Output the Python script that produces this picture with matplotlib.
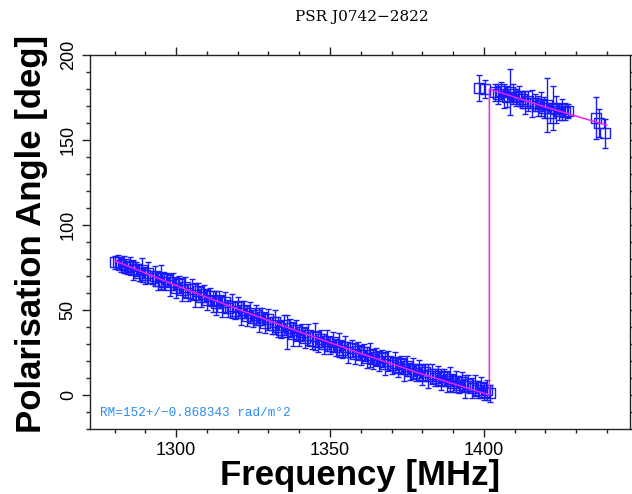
import matplotlib
matplotlib.use("Agg")
import matplotlib.pyplot as plt
import numpy as np
from matplotlib.ticker import MultipleLocator

# left band: channels 1280..1402 MHz
left_freq = np.arange(1280, 1403)
left_pa = [78, 78.5, 76.5, 77, 75, 76, 73.5, 74, 72, 73.5,
           70.5, 72, 69, 70, 67, 69.5, 66.5, 68, 64.5, 66.5,
           63, 65, 62, 63.5, 60, 62.5, 59, 61, 57.5, 59.5,
           56, 58, 55, 54, 56, 52, 54.5, 51, 52.5, 49.5,
           51.5, 48, 50, 46.5, 48.5, 45, 47, 44, 46, 42.5,
           44.5, 41, 43, 40, 38.5, 41, 37, 39.5, 36, 38,
           35, 37, 33.5, 35.5, 32, 34.5, 31, 33, 30, 32,
           29, 31, 28, 29.5, 26.5, 28.5, 25, 27.5, 24, 26,
           23.5, 25, 22, 23.5, 21, 22.5, 20, 21.5, 18.5, 20,
           17.5, 19, 16.5, 18, 15, 17, 14, 15.5, 13, 14.5,
           12, 13.5, 11, 12.5, 10, 11, 9, 10.5, 8, 9.5,
           7, 8, 6, 7.5, 5, 6.5, 4, 5.5, 3, 4.5,
           2, 3, 1]
left_err = [4, 4, 4, 5, 4, 5, 6, 4, 5, 7,
            5, 6, 4, 6, 5, 7, 5, 4, 6, 5,
            6, 5, 7, 6, 5, 6, 7, 5, 6, 5,
            6, 5, 6, 7, 5, 6, 6, 5, 7, 5,
            6, 7, 5, 6, 6, 5, 6, 7, 5, 6,
            6, 5, 7, 6, 5, 6, 10, 5, 7, 6,
            6, 5, 6, 6, 5, 8, 6, 5, 6, 6,
            5, 6, 5, 7, 5, 6, 6, 5, 6, 5,
            6, 5, 6, 7, 6, 5, 6, 5, 7, 6,
            5, 6, 6, 5, 7, 6, 5, 6, 5, 6,
            6, 5, 7, 6, 5, 6, 6, 5, 6, 7,
            5, 6, 5, 6, 7, 5, 6, 6, 5, 6,
            5, 6, 5]

# upper band (wrapped by 180 deg)
right_freq = [1398.5, 1400.5, 1403.5, 1404.5, 1405.5, 1406.5, 1407.5, 1408.5,
              1409.5, 1410.5, 1411.5, 1412.5, 1413.5, 1414.5, 1415.5, 1416.5,
              1417.5, 1418.5, 1419.5, 1420.5, 1421.5, 1422.5, 1423.5, 1424.5,
              1425.5, 1426.5, 1427.5, 1436.5, 1437.5, 1439.5]
right_pa = [180.5, 180, 178, 177, 179, 176, 175.5, 178, 177, 175,
            176, 174, 172, 173, 171.5, 172, 170, 171, 169, 170.5,
            166, 169, 168, 167, 168, 166.5, 167, 163, 160, 154]
right_err = [7.5, 5.5, 5, 6, 5, 7, 6, 13.5, 6, 5,
             6, 5, 7, 6, 8, 5, 6, 7, 6, 16,
             6, 13, 8, 5, 6, 5, 4, 12.5, 8, 8.5]

# RM fit curve
fit_freq = [1280, 1300, 1320, 1340, 1360, 1380, 1401.8, 1401.8, 1420, 1440]
fit_pa = [79, 64.4, 50.5, 37.2, 24.4, 12.3, 0, 180, 169.4, 158.7]

fig = plt.figure(figsize=(6.32, 4.94), dpi=100)
ax = fig.add_axes([0.1424, 0.1316, 0.8544, 0.7571])

for f, p, e in [(left_freq, left_pa, left_err), (right_freq, right_pa, right_err)]:
    ax.errorbar(f, p, yerr=e, fmt="s", ms=7, mfc="none", mec="#1a1aff", mew=1,
                ecolor="#1a1aff", elinewidth=1, capsize=2.5, capthick=1, zorder=2)
ax.plot(fit_freq, fit_pa, color="#f020f0", lw=1.1, zorder=3)

ax.set_xlim(1272, 1447.5)
ax.set_ylim(-20, 200)
ax.xaxis.set_major_locator(MultipleLocator(50))
ax.xaxis.set_minor_locator(MultipleLocator(10))
ax.yaxis.set_major_locator(MultipleLocator(50))
ax.yaxis.set_minor_locator(MultipleLocator(10))
ax.tick_params(which="both", direction="out", top=True, right=True, width=1, color="#222222")
ax.tick_params(which="major", length=6)
ax.tick_params(which="minor", length=3)
ax.tick_params(axis="y", labelrotation=90)
for lab in ax.get_xticklabels() + ax.get_yticklabels():
    lab.set_family("Liberation Sans")
    lab.set_fontsize(13)
for lab in ax.get_yticklabels():
    lab.set_va("center")
for s in ax.spines.values():
    s.set_color("#222222")
    s.set_linewidth(1)

ax.set_xlabel("Frequency [MHz]", fontsize=25, fontweight="bold", family="Liberation Sans", labelpad=0)
ax.set_ylabel("Polarisation Angle [deg]", fontsize=25, fontweight="bold", family="Liberation Sans")
ax.yaxis.set_label_coords(-0.077, 0.522)
fig.text(0.572, 0.966, "PSR J0742\u22122822", ha="center", va="center", fontsize=11, family="DejaVu Serif")
ax.text(0.018, 0.043, "RM=152+/\u22120.868343 rad/m\u00b02", transform=ax.transAxes, fontsize=9.2,
        color="#2b8cf0", family="Liberation Mono", va="center")

fig.savefig("out.png", dpi=100)
